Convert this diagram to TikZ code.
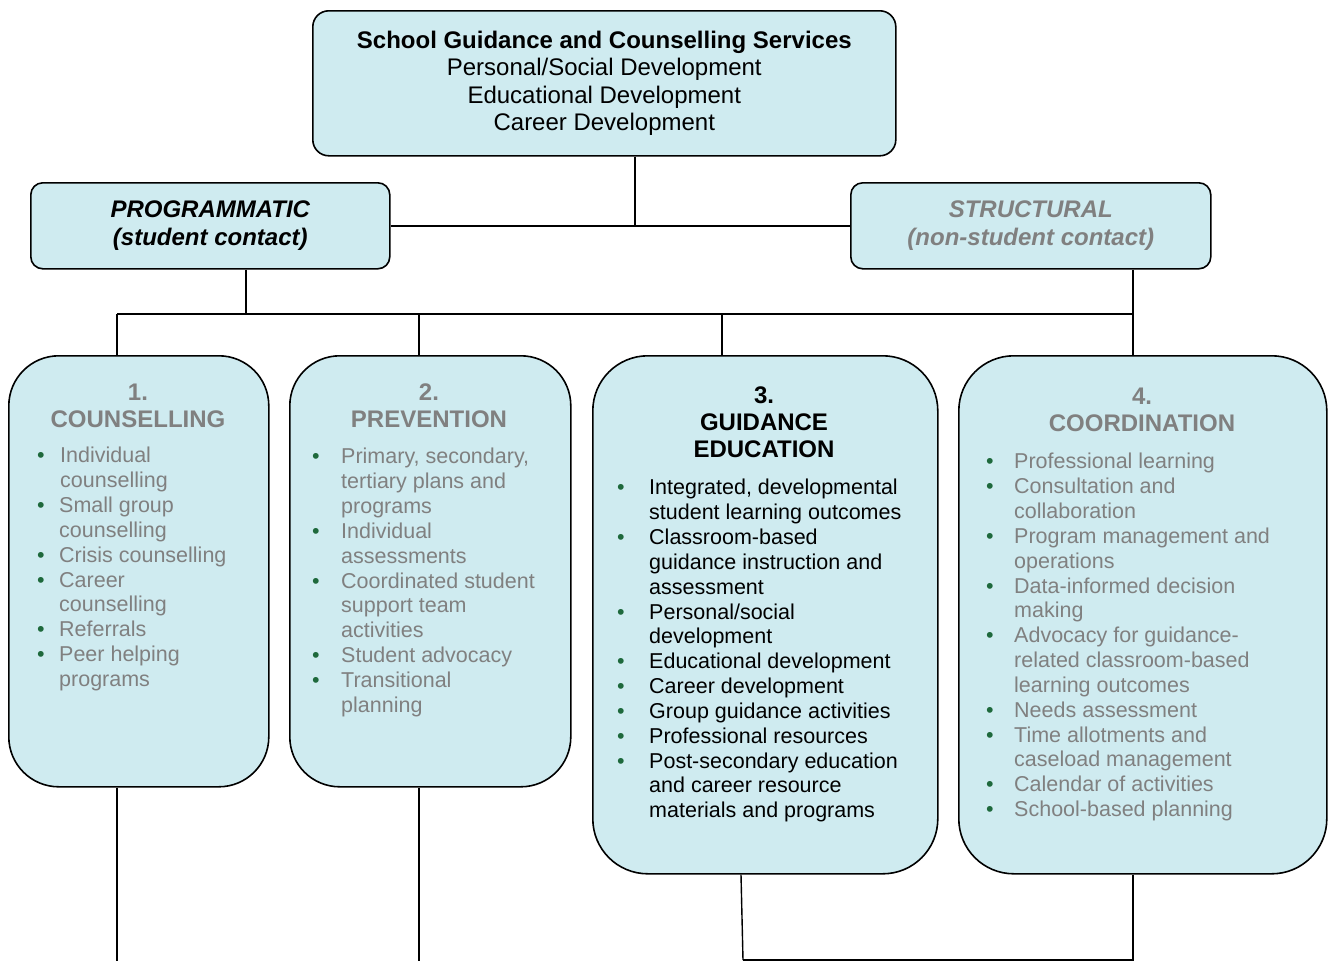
\documentclass[tikz,border=0pt]{standalone}
\usepackage{fontspec}
\setmainfont{Liberation Sans}
\usetikzlibrary{calc}
\definecolor{boxfill}{RGB}{207,235,240}
\definecolor{txtgray}{RGB}{128,128,128}
\definecolor{bulc}{RGB}{30,105,60}
\newcommand\Bu[2]{\makebox[#1][l]{\textcolor{bulc}{•}}#2}
\newcommand\Co[2]{\makebox[#1][l]{}#2}
\begin{document}
\begin{tikzpicture}[x=1pt,y=-1pt,
  box/.style={draw=black,line width=1.6pt,fill=boxfill,anchor=north west,inner sep=0pt},
  conn/.style={draw=black,line width=1.4pt},
  head/.style={font=\fontsize{24}{27}\selectfont\bfseries,align=center,anchor=north,inner sep=0pt},
  lst/.style={font=\fontsize{21.5}{24.85}\selectfont,align=left,anchor=north west,inner sep=0pt}]
\useasboundingbox (0,0) rectangle (1328,961);

% boxes
\node[box,minimum width=583pt,minimum height=145pt,rounded corners=16pt,align=center,
  font=\fontsize{24}{27.6}\selectfont] (top) at (312,10)
  {\textbf{School Guidance and Counselling Services}\\Personal/Social Development\\Educational Development\\Career Development};
\node[box,minimum width=359pt,minimum height=86pt,rounded corners=12pt,align=center,
  font=\fontsize{24}{27.6}\selectfont\bfseries\itshape] (prog) at (30,182)
  {PROGRAMMATIC\\(student contact)};
\node[box,minimum width=360pt,minimum height=86pt,rounded corners=12pt,align=center,text=txtgray,
  font=\fontsize{24}{27.6}\selectfont\bfseries\itshape] (struct) at (850,182)
  {STRUCTURAL\\(non-student contact)};

\node[box,minimum width=260pt,minimum height=431pt,rounded corners=50pt] (b1) at (8,355) {};
\node[box,minimum width=281pt,minimum height=431pt,rounded corners=50pt] (b2) at (289,355) {};
\node[box,minimum width=345pt,minimum height=518pt,rounded corners=55pt] (b3) at (592,355) {};
\node[box,minimum width=368pt,minimum height=518pt,rounded corners=55pt] (b4) at (958,355) {};

% headings
\node[head,text=txtgray] (h1) at (138,384) {1.\\COUNSELLING};
\node[head,text=txtgray] (h2) at (429,384) {2.\\PREVENTION};
\node[head,text=black] (h3) at (764,387) {3.\\GUIDANCE\\EDUCATION};
\node[head,text=txtgray] (h4) at (1142,388) {4.\\COORDINATION};

% lists
\node[lst,text=txtgray] (l1) at (37,447) {%
\Bu{23pt}{Individual}\\
\Co{23pt}{counselling}\\
\Bu{22pt}{Small group}\\
\Co{22pt}{counselling}\\
\Bu{22pt}{Crisis counselling}\\
\Bu{22pt}{Career}\\
\Co{22pt}{counselling}\\
\Bu{22pt}{Referrals}\\
\Bu{22pt}{Peer helping}\\
\Co{22pt}{programs}};

\node[lst,text=txtgray] (l2) at (312,448) {%
\Bu{29pt}{Primary, secondary,}\\
\Co{29pt}{tertiary plans and}\\
\Co{29pt}{programs}\\
\Bu{29pt}{Individual}\\
\Co{29pt}{assessments}\\
\Bu{29pt}{Coordinated student}\\
\Co{29pt}{support team}\\
\Co{29pt}{activities}\\
\Bu{29pt}{Student advocacy}\\
\Bu{29pt}{Transitional}\\
\Co{29pt}{planning}};

\node[lst,text=black] (l3) at (617,479) {%
\Bu{32pt}{Integrated, developmental}\\
\Co{32pt}{student learning outcomes}\\
\Bu{32pt}{Classroom-based}\\
\Co{32pt}{guidance instruction and}\\
\Co{32pt}{assessment}\\
\Bu{32pt}{Personal/social}\\
\Co{32pt}{development}\\
\Bu{32pt}{Educational development}\\
\Bu{32pt}{Career development}\\
\Bu{32pt}{Group guidance activities}\\
\Bu{32pt}{Professional resources}\\
\Bu{32pt}{Post-secondary education}\\
\Co{32pt}{and career resource}\\
\Co{32pt}{materials and programs}};

\node[lst,text=txtgray] (l4) at (986,453) {%
\Bu{28pt}{Professional learning}\\
\Bu{28pt}{Consultation and}\\
\Co{28pt}{collaboration}\\
\Bu{28pt}{Program management and}\\
\Co{28pt}{operations}\\
\Bu{28pt}{Data-informed decision}\\
\Co{28pt}{making}\\
\Bu{28pt}{Advocacy for guidance-}\\
\Co{28pt}{related classroom-based}\\
\Co{28pt}{learning outcomes}\\
\Bu{28pt}{Needs assessment}\\
\Bu{28pt}{Time allotments and}\\
\Co{28pt}{caseload management}\\
\Bu{28pt}{Calendar of activities}\\
\Bu{28pt}{School-based planning}};

% connectors
\coordinate (j1) at (635,226);
\draw[conn] (top.south -| j1) -- (j1);
\draw[conn] (prog.east) -- (struct.west);

\coordinate (hl) at (117,314);
\coordinate (hr) at (1133,314);
\coordinate (pj) at (246,314);
\coordinate (v2) at (419,314);
\coordinate (v3) at (722,314);
\draw[conn] (prog.south -| pj) -- (pj);
\draw[conn] (hl) -- (hr);
\draw[conn] (struct.south -| hr) -- (b4.north -| hr);
\draw[conn] (hl) -- (b1.north -| hl);
\draw[conn] (v2) -- (b2.north -| v2);
\draw[conn] (v3) -- (b3.north -| v3);

\coordinate (e1) at (117,961);
\coordinate (e2) at (419,961);
\coordinate (e3top) at (741,873);
\coordinate (e3) at (743,960);
\coordinate (e4) at (1133,960);
\draw[conn] (b1.south -| e1) -- (e1);
\draw[conn] (b2.south -| e2) -- (e2);
\draw[conn] (b3.south -| e3top) -- (e3);
\draw[conn] (b4.south -| e4) -- (e4) -- (e3);
\end{tikzpicture}
\end{document}
